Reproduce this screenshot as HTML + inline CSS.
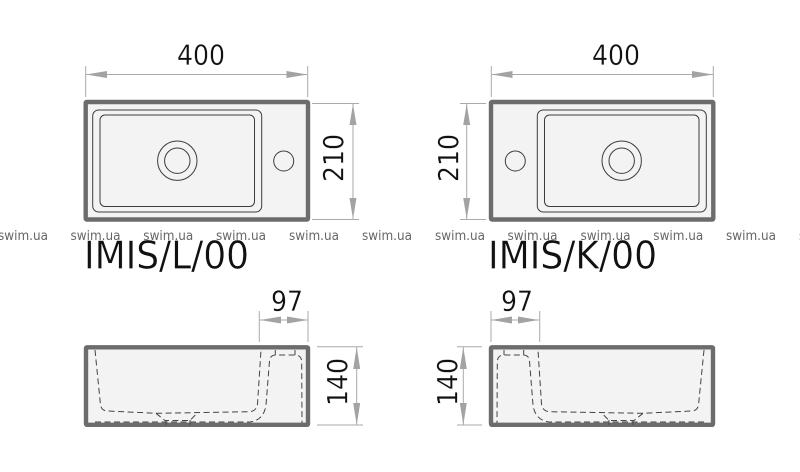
<!DOCTYPE html>
<html><head><meta charset="utf-8"><style>
html,body{margin:0;padding:0;background:#fff;width:800px;height:472px;overflow:hidden}
svg{display:block;filter:blur(.35px)}
.dim{font-family:"DejaVu Sans",sans-serif;font-size:28px;fill:#111;stroke:#fff;stroke-width:.25}
.wm{font-family:"DejaVu Sans",sans-serif;font-size:13px;fill:#666}
.ti{font-family:"DejaVu Sans",sans-serif;font-size:38px;fill:#111;stroke:#fff;stroke-width:.35}
.ext{stroke:#aaa;stroke-width:1;fill:none}
.arr{fill:#a3a3a3}
.out{fill:#f4f3f4;stroke:#6c6c6c;stroke-width:4.4;stroke-linejoin:round}
.ln{fill:none;stroke:#3c3c3c;stroke-width:1}
.da{fill:none;stroke:#444;stroke-width:1;stroke-dasharray:6 3.5}
</style></head><body>
<svg width="800" height="472" viewBox="0 0 800 472" xmlns="http://www.w3.org/2000/svg">
<defs>
<g id="top">
<rect class="out" x="85.700" y="102" width="222.300" height="117.500" rx="1"/>
<rect class="ln" x="92.700" y="110" width="169" height="102" rx="6"/>
<rect class="ln" x="100" y="115" width="154.500" height="91.500" rx="5"/>
<circle class="ln" cx="177.300" cy="160.700" r="19.700"/>
<circle class="ln" cx="177.300" cy="160.700" r="12.700"/>
<circle class="ln" cx="283.700" cy="161" r="10"/>
<path class="ext" d="M85.700 66V97M307.700 66V97M86 74.500H307"/>
<path class="arr" d="M86 74.500L107 71V78ZM307.500 74.500L286.500 71V78Z"/>
</g>
<g id="bot">
<rect class="out" x="86" y="347.300" width="222" height="77.500" rx="1"/>
<path class="da" d="M95 350L100.500 405Q101.500 411 108 411L156 413.300L250 411.700Q256.500 411 257.500 404L261 350"/>
<path class="da" d="M156 413.300L165 420.500H190L197 413.300M166 420V425M190 420V425"/>
<path class="da" d="M95 422H250Q264 420 266 405L269.500 361Q270 355 276 355H295Q301.500 355 301.700 362L302 423"/>
<path class="da" style="stroke-dasharray:none" d="M275.300 350V355M295 350V355"/>
<path class="ext" d="M259.300 311V342M308 311V342M260 320H308"/>
<path class="arr" d="M260 320L281 316.500V323.500ZM287 323.500V316.500L308 320Z"/>
</g>
</defs>
<use href="#top"/>
<use href="#top" transform="translate(799) scale(-1,1)"/>
<use href="#bot"/>
<use href="#bot" transform="translate(799) scale(-1,1)"/>
<path class="ext" d="M312 103.500H359M312 219.500H359M353 104V219M460 103.500H486M460 219.500H486M466.700 104V219M317 346.700H363M317 425H363M356.700 347V425M457 346.700H482M457 425H482M463.300 347V425"/>
<path class="arr" d="M353 104L349.500 125H356.500ZM353 219L349.500 198H356.500ZM466.700 104L463.200 125H470.200ZM466.700 219L463.200 198H470.200ZM356.700 347L353.200 369H360.200ZM356.700 425L353.200 403H360.200ZM463.300 347L459.800 369H466.800ZM463.300 425L459.800 403H466.800Z"/>
<text class="dim" x="177" y="64.500" textLength="48" lengthAdjust="spacingAndGlyphs">400</text>
<text class="dim" x="592" y="64.500" textLength="48" lengthAdjust="spacingAndGlyphs">400</text>
<text class="dim" transform="translate(343 182) rotate(-90)" textLength="48" lengthAdjust="spacingAndGlyphs">210</text>
<text class="dim" transform="translate(458 182) rotate(-90)" textLength="48" lengthAdjust="spacingAndGlyphs">210</text>
<text class="dim" x="271" y="310.500" textLength="32" lengthAdjust="spacingAndGlyphs">97</text>
<text class="dim" x="501" y="310.500" textLength="32" lengthAdjust="spacingAndGlyphs">97</text>
<text class="dim" transform="translate(347 406) rotate(-90)" textLength="48" lengthAdjust="spacingAndGlyphs">140</text>
<text class="dim" transform="translate(457 406) rotate(-90)" textLength="48" lengthAdjust="spacingAndGlyphs">140</text>
<g class="wm">
<text x="-2" y="240" textLength="50" lengthAdjust="spacingAndGlyphs">swim.ua</text>
<text x="70.500" y="240" textLength="50" lengthAdjust="spacingAndGlyphs">swim.ua</text>
<text x="143.300" y="240" textLength="50" lengthAdjust="spacingAndGlyphs">swim.ua</text>
<text x="216" y="240" textLength="50" lengthAdjust="spacingAndGlyphs">swim.ua</text>
<text x="289" y="240" textLength="50" lengthAdjust="spacingAndGlyphs">swim.ua</text>
<text x="362" y="240" textLength="50" lengthAdjust="spacingAndGlyphs">swim.ua</text>
<text x="435" y="240" textLength="50" lengthAdjust="spacingAndGlyphs">swim.ua</text>
<text x="507.500" y="240" textLength="50" lengthAdjust="spacingAndGlyphs">swim.ua</text>
<text x="580.500" y="240" textLength="50" lengthAdjust="spacingAndGlyphs">swim.ua</text>
<text x="653.300" y="240" textLength="50" lengthAdjust="spacingAndGlyphs">swim.ua</text>
<text x="726" y="240" textLength="50" lengthAdjust="spacingAndGlyphs">swim.ua</text>
<text x="799" y="240" textLength="50" lengthAdjust="spacingAndGlyphs">swim.ua</text>
</g>
<text class="ti" x="84" y="268.500" textLength="165" lengthAdjust="spacingAndGlyphs">IMIS/L/00</text>
<text class="ti" x="488" y="268.500" textLength="169" lengthAdjust="spacingAndGlyphs">IMIS/K/00</text>
</svg>
</body></html>
